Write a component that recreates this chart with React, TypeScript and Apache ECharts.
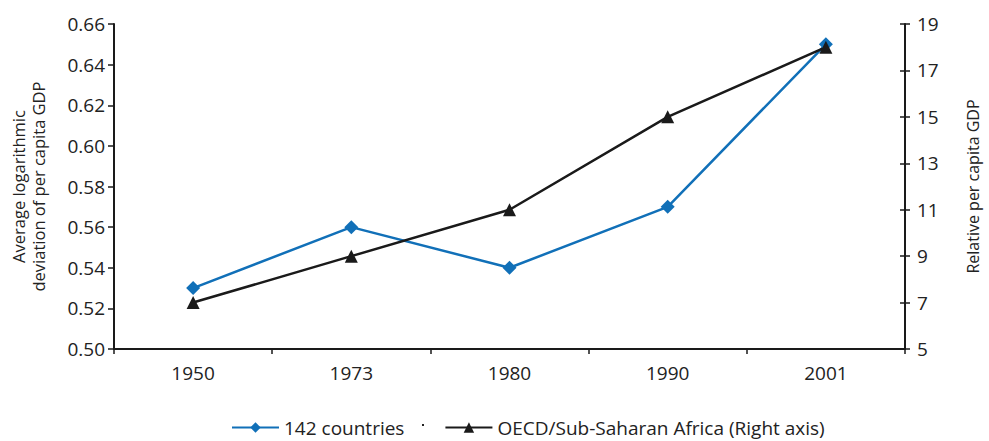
import React, { useEffect, useRef } from "react";
import * as echarts from "echarts";

const categories = ["1950", "1973", "1980", "1990", "2001"];
const countries142 = [0.53, 0.56, 0.54, 0.57, 0.65];
const oecdSSA = [7, 9, 11, 15, 18];

const FONT = "'Open Sans', 'Noto Sans', sans-serif";
const BLUE = "#1170b8";
const BLACK = "#1a1a1a";
const TEXT = "#222";

export default function App() {
  const ref = useRef<HTMLDivElement>(null);
  useEffect(() => {
    const chart = echarts.init(ref.current!, null, { renderer: "svg" });
    chart.setOption({
      animation: false,
      textStyle: { fontFamily: FONT },
      grid: { left: 113, right: 66, top: 24, bottom: 92, containLabel: false },
      legend: {
        top: 418,
        left: 231,
        padding: 0,
        itemWidth: 47,
        itemHeight: 13,
        itemGap: 40,
        textStyle: { fontFamily: FONT, fontSize: 19, color: TEXT },
        data: [
          { name: "142 countries" },
          { name: "OECD/Sub-Saharan Africa (Right axis)" },
        ],
      },
      graphic: [
        { type: "rect", left: 422, top: 424, shape: { width: 2, height: 2 }, style: { fill: TEXT } },
      ],
      xAxis: {
        type: "category",
        data: categories,
        boundaryGap: true,
        axisLine: { lineStyle: { color: BLACK, width: 2 } },
        axisTick: { show: true, length: 5, lineStyle: { color: BLACK, width: 1.5 } },
        axisLabel: { fontFamily: FONT, fontSize: 19, color: TEXT, margin: 14 },
        splitLine: { show: false },
      },
      yAxis: [
        {
          type: "value",
          min: 0.5,
          max: 0.66,
          interval: 0.02,
          position: "left",
          axisLine: { show: true, lineStyle: { color: BLACK, width: 2 } },
          axisTick: { show: true, length: 6, lineStyle: { color: BLACK, width: 1.5 } },
          axisLabel: {
            fontFamily: FONT,
            fontSize: 19,
            color: TEXT,
            margin: 9,
            formatter: (v: number) => v.toFixed(2),
          },
          splitLine: { show: false },
          name: "Average logarithmic\ndeviation of per capita GDP",
          nameLocation: "middle",
          nameRotate: 90,
          nameGap: 66,
          nameTextStyle: { fontFamily: FONT, fontSize: 16.5, color: TEXT, lineHeight: 20 },
        },
        {
          type: "value",
          min: 5,
          max: 19,
          interval: 2,
          position: "right",
          axisLine: { show: true, lineStyle: { color: BLACK, width: 2 } },
          axisTick: { show: true, length: 5, lineStyle: { color: BLACK, width: 1.5 } },
          axisLabel: { fontFamily: FONT, fontSize: 19, color: TEXT, margin: 12 },
          splitLine: { show: false },
          name: "Relative per capita GDP",
          nameLocation: "middle",
          nameRotate: 90,
          nameGap: 60,
          nameTextStyle: { fontFamily: FONT, fontSize: 16, color: TEXT },
        },
        {
          type: "value",
          min: 5,
          max: 19,
          interval: 2,
          position: "right",
          axisLine: { show: false },
          axisTick: { show: true, inside: true, length: 5, lineStyle: { color: BLACK, width: 1.5 } },
          axisLabel: { show: false },
          splitLine: { show: false },
        },
      ],
      series: [
        {
          name: "142 countries",
          type: "line",
          yAxisIndex: 0,
          data: countries142,
          symbol: "diamond",
          symbolSize: 14,
          lineStyle: { color: BLUE, width: 2.5 },
          itemStyle: { color: BLUE },
        },
        {
          name: "OECD/Sub-Saharan Africa (Right axis)",
          type: "line",
          yAxisIndex: 1,
          data: oecdSSA,
          symbol: "triangle",
          symbolSize: 13,
          lineStyle: { color: BLACK, width: 2.5 },
          itemStyle: { color: BLACK },
        },
      ],
    });
    return () => chart.dispose();
  }, []);
  return (
    <div
      ref={ref}
      style={{ position: "absolute", left: 0, top: 0, width: 989, height: 441 }}
    />
  );
}
